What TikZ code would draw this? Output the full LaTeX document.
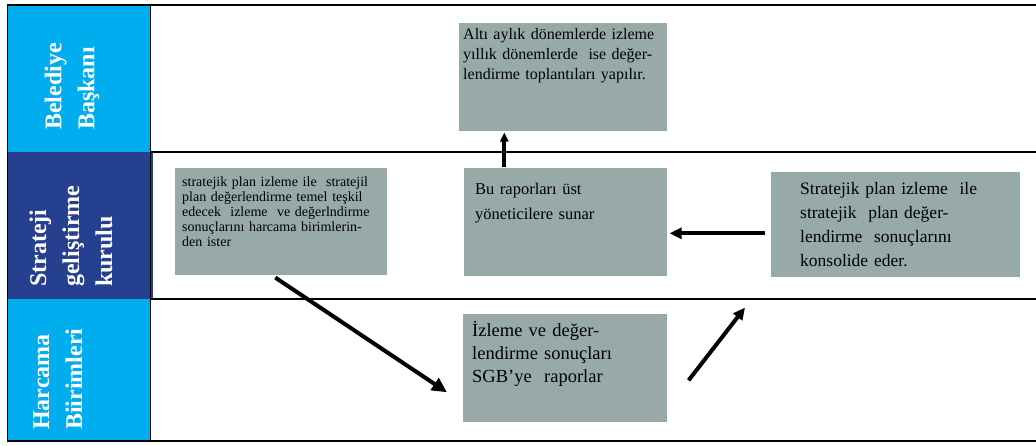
\documentclass[tikz,border=0pt]{standalone}
\usepackage{fontspec}
\setmainfont{Liberation Serif}
\usetikzlibrary{arrows.meta,calc}
\definecolor{lightlane}{RGB}{0,174,239}
\definecolor{darklane}{RGB}{37,64,143}
\definecolor{boxgray}{RGB}{151,170,168}
\begin{document}
\begin{tikzpicture}[x=1pt,y=-1pt,
  box/.style={fill=boxgray, draw=white, line width=0.6pt, inner sep=0pt, anchor=north west},
  txt/.style={anchor=base west, inner sep=0pt, align=left, text width=260pt, text=black},
  lanelabel/.style={rotate=90, anchor=west, align=left, inner sep=0pt, text=white,
    font=\fontsize{24}{33}\selectfont\bfseries},
  flow/.style={line width=4pt, -{Triangle[length=15pt,width=14pt]}},
  flowsmall/.style={line width=4pt, -{Triangle[length=12pt,width=11pt]}}]
\useasboundingbox (0,0) rectangle (1036,446);
\fill[white] (0,0) rectangle (1036,446);
% lanes
\fill[lightlane] (7,6) rectangle (150,152);
\fill[darklane] (7,152) rectangle (153,299);
\fill[lightlane] (7,299) rectangle (150,441);
\draw[line width=1.5pt] (7,5) -- (1036,5);
\draw[line width=2.5pt] (150,152) -- (1036,152);
\draw[line width=2.5pt] (150,299) -- (1036,299);
\draw[line width=1.8pt] (7,441) -- (1036,441);
\draw[line width=1pt] (7,5) -- (7,441);
\draw[line width=1pt] (150,5) -- (150,441);
% lane labels
\node[lanelabel] (L1) at (72,130) {Belediye\\Başkanı};
\node[lanelabel] (L2) at (71,287) {Strateji\\geliştirme\\kurulu};
\node[lanelabel] (L3) at (58,430) {Harcama\\Biirimleri};
% boxes
\node[box, minimum width=209pt, minimum height=109pt] (A) at (458,22) {};
\node[box, minimum width=213pt, minimum height=108pt] (B) at (174,167) {};
\node[box, minimum width=204pt, minimum height=109pt] (C) at (463,167) {};
\node[box, minimum width=250pt, minimum height=106pt] (D) at (770,171) {};
\node[box, minimum width=205pt, minimum height=109pt] (E) at (462,313) {};
% texts
\node[txt, font=\fontsize{16}{20}\selectfont] (tA) at (463,40)
  {Altı aylık dönemlerde izleme\\yıllık dönemlerde \ ise değer-\\lendirme toplantıları yapılır.};
\node[txt, font=\fontsize{14}{15}\selectfont] (tB) at (182,187)
  {stratejik plan izleme ile \ stratejil\\plan değerlendirme temel teşkil\\edecek \ izleme \ ve değerlndirme\\sonuçlarını harcama birimlerin-\\den ister};
\node[txt, font=\fontsize{16.5}{25}\selectfont] (tC) at (475,195)
  {Bu raporları üst\\yöneticilere sunar};
\node[txt, font=\fontsize{17.5}{24}\selectfont] (tD) at (800,195)
  {Stratejik plan izleme \ ile\\stratejik \ plan değer-\\lendirme \ sonuçlarını\\konsolide eder.};
\node[txt, font=\fontsize{18.5}{23}\selectfont] (tE) at (472,337)
  {İzleme ve değer-\\lendirme sonuçları\\SGB’ye \ raporlar};
% connectors
\draw[flow] ([xshift=-5.5pt,yshift=-2pt]B.south) -- ([xshift=-15pt,yshift=-24.5pt]E.west);
\draw[flowsmall] ([xshift=-5pt,yshift=-9pt]D.west) -- ([xshift=2pt,yshift=-11.5pt]C.east);
\draw[flowsmall] ([xshift=21pt,yshift=-12.5pt]E.east) -- ([xshift=-25pt,yshift=-30pt]D.south west);
\draw[line width=4pt, -{Triangle[length=9pt,width=8pt]}] ([xshift=-61pt]C.north) -- ([xshift=-58.5pt,yshift=-1pt]A.south);
\end{tikzpicture}
\end{document}
